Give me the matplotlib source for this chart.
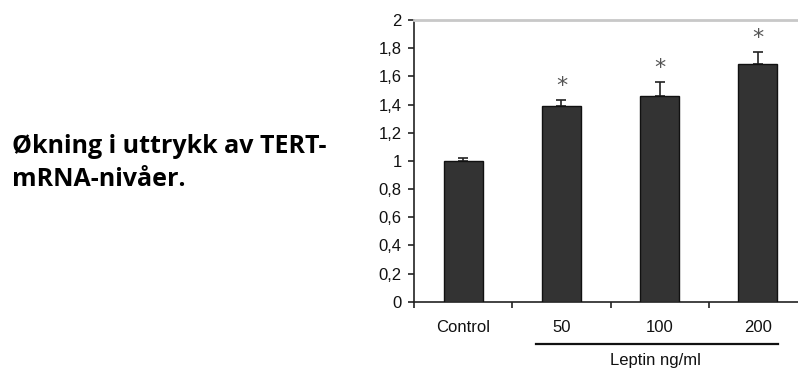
import matplotlib
matplotlib.use("Agg")
import matplotlib.pyplot as plt
import matplotlib.transforms as mtransforms

# Data
categories = ["Control", "50", "100", "200"]
values = [1.00, 1.39, 1.46, 1.69]
errors = [0.02, 0.04, 0.10, 0.08]
significant = [False, True, True, True]
y_ticks = [0, 0.2, 0.4, 0.6, 0.8, 1.0, 1.2, 1.4, 1.6, 1.8, 2.0]
y_tick_labels = ["0", "0,2", "0,4", "0,6", "0,8", "1", "1,2", "1,4", "1,6", "1,8", "2"]
group_label = "Leptin ng/ml"
heading_lines = ["Økning i uttrykk av TERT-", "mRNA-nivåer."]

plt.rcParams["font.family"] = ["Liberation Sans", "DejaVu Sans"]

W, H = 798, 374
fig = plt.figure(figsize=(W / 100, H / 100), dpi=100)

# Axes placed in pixel units (right edge runs past the figure, as in the source)
left, right, top, bottom = 414.3, 806.7, 20.0, 301.7
ax = fig.add_axes([left / W, (H - bottom) / H, (right - left) / W, (bottom - top) / H])

x = [i + 0.5 for i in range(len(categories))]
ax.bar(x, values, width=0.4, color="#333333", edgecolor="#111111", linewidth=1.0, zorder=3)
ax.errorbar(x, values, yerr=[[0] * len(errors), errors], fmt="none",
            ecolor="#222222", elinewidth=1.2, capsize=3.5, capthick=1.2, zorder=2)

for xi, v, e, s in zip(x, values, errors, significant):
    if s:
        ax.text(xi, v + e + 0.1, "*", ha="center", va="center",
                fontsize=16, color="#555555", family="DejaVu Sans")

ax.set_xlim(0, len(categories))
ax.set_ylim(0, 2)
ax.set_yticks(y_ticks)
ax.set_yticklabels(y_tick_labels, fontsize=12, color="#111111")
ax.set_xticks(range(len(categories) + 1))
ax.set_xticklabels([""] * (len(categories) + 1))
ax.set_xticks(x, minor=True)
ax.set_xticklabels(categories, minor=True, fontsize=12, color="#111111")
ax.tick_params(axis="x", which="minor", length=0, pad=13)
ax.tick_params(axis="both", which="major", direction="out", length=4, width=1.2, color="#222222")
ax.tick_params(axis="y", pad=5)

for side in ["left", "bottom"]:
    ax.spines[side].set_color("#222222")
    ax.spines[side].set_linewidth(1.2)
ax.spines["top"].set_color("#c8c8c8")
ax.spines["top"].set_linewidth(2)
ax.spines["right"].set_visible(False)

# Bracket line under the leptin doses
trans = mtransforms.blended_transform_factory(ax.transData, ax.transAxes)
ax.plot([1.24, 3.71], [-0.151, -0.151], color="#111111", lw=1.6,
        transform=trans, clip_on=False)
ax.text(2.46, -0.21, group_label, transform=trans, ha="center", va="center",
        fontsize=12, color="#111111")

for i, line in enumerate(heading_lines):
    fig.text(12 / W, 1 - (153 + 33 * i) / H, line, ha="left", va="baseline",
             fontsize=18, fontweight="bold", family=["Open Sans", "DejaVu Sans"])

fig.savefig("out.png", dpi=100)
